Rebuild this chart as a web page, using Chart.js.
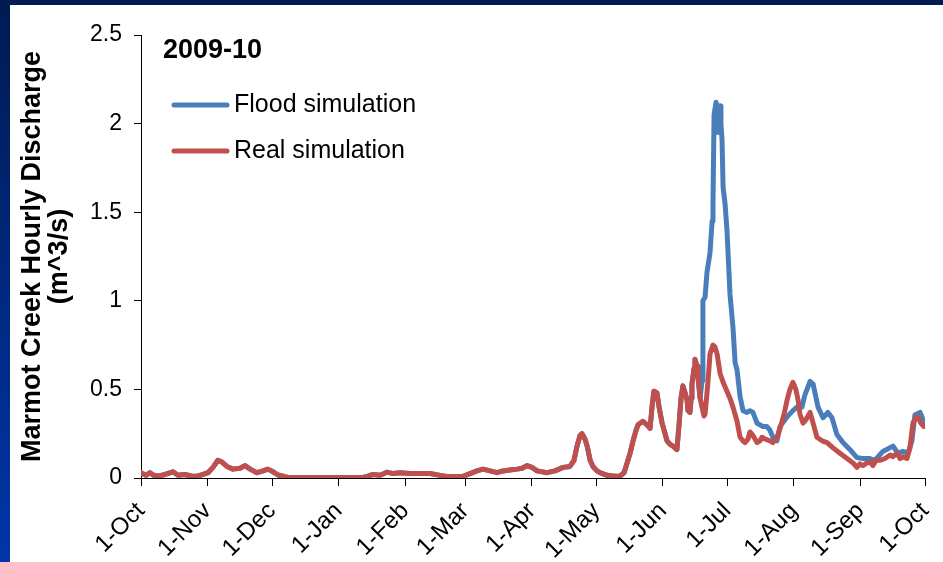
<!DOCTYPE html>
<html>
<head>
<meta charset="utf-8">
<title>Marmot Creek hourly discharge 2009-10</title>
<script src="https://cdn.jsdelivr.net/npm/chart.js@4.4.0/dist/chart.umd.min.js"></script>
<style>
  html, body { margin: 0; padding: 0; }
  body {
    width: 943px;
    height: 562px;
    position: relative;
    overflow: hidden;
    background: linear-gradient(to bottom, #001a52, #0036a8);
  }
  #panel {
    position: absolute;
    left: 10px;
    top: 5px;
    width: 933px;
    height: 557px;
    background: #ffffff;
  }
</style>
</head>
<body>
<div id="panel"><canvas id="flowChart" width="933" height="557"></canvas></div>
<script>
// days counted from 1-Oct-2009
const monthDays = [0, 31, 61, 92, 123, 151, 182, 212, 243, 273, 304, 335, 365];
const monthLabels = ['1-Oct', '1-Nov', '1-Dec', '1-Jan', '1-Feb', '1-Mar', '1-Apr',
                     '1-May', '1-Jun', '1-Jul', '1-Aug', '1-Sep', '1-Oct'];
const seasonLabel = '2009-10';

// real simulation (m^3/s)
const realDays = [0, 2.3, 4.2, 5.6, 7.9, 11.2, 14.9, 17.2, 20.5, 23.7, 26.1, 28.9, 31.2, 33.5, 35.8,
  37.7, 40.0, 42.8, 46.1, 48.4, 50.8, 54.0, 56.8, 59.1, 61.5, 63.8, 68.0, 74.0, 92.6, 103.4,
  105.7, 108.0, 111.3, 114.5, 117.3, 120.6, 125.2, 129.9, 134.5, 139.2, 142.5, 146.2, 149.9,
  153.2, 156.4, 159.2, 162.5, 165.7, 168.5, 171.8, 175.1, 177.4, 179.7, 182.0, 184.4, 189.0,
  192.7, 196.5, 199.7, 201.6, 203.0, 204.4, 205.3, 206.7, 207.7, 209.1, 210.4, 212.3, 213.7,
  217.0, 220.7, 223.0, 224.9, 226.3, 227.7, 229.1, 230.5, 231.4, 233.7, 235.6, 237.0, 237.9,
  238.8, 240.2, 241.2, 242.6, 244.0, 244.9, 246.3, 247.7, 249.5, 250.5, 251.4, 252.3, 253.3,
  254.2, 254.7, 255.6, 256.1, 256.5, 257.5, 257.9, 258.9, 259.3, 260.3, 261.2, 262.1, 262.6,
  263.5, 264.0, 264.9, 266.3, 267.2, 268.2, 269.6, 271.0, 272.8, 274.2, 275.6, 277.5, 278.9,
  280.3, 281.2, 282.6, 283.5, 284.9, 286.8, 288.2, 289.1, 290.5, 292.8, 294.2, 296.1, 297.5,
  299.4, 300.8, 302.1, 303.5, 304.9, 305.9, 306.8, 308.2, 309.6, 311.5, 312.9, 314.7, 317.1,
  319.4, 322.2, 325.4, 328.7, 331.5, 333.3, 334.7, 336.1, 338.0, 339.4, 340.8, 342.2, 344.0,
  346.4, 348.7, 350.1, 352.0, 353.4, 354.8, 356.6, 358.0, 359.4, 360.8, 361.7, 363.1, 364.5, 365.0];
const realQ = [0.03, 0.015, 0.03, 0.017, 0.01, 0.02, 0.035, 0.015, 0.02, 0.01, 0.01, 0.02, 0.03, 0.06, 0.10,
  0.09, 0.065, 0.05, 0.055, 0.07, 0.05, 0.03, 0.04, 0.05, 0.035, 0.017, 0.004, 0.003, 0.003, 0.003,
  0.01, 0.02, 0.015, 0.033, 0.025, 0.03, 0.025, 0.025, 0.025, 0.015, 0.008, 0.008, 0.01,
  0.025, 0.04, 0.05, 0.04, 0.03, 0.04, 0.045, 0.05, 0.055, 0.07, 0.06, 0.04, 0.03,
  0.04, 0.06, 0.065, 0.10, 0.18, 0.24, 0.25, 0.22, 0.18, 0.10, 0.065, 0.04, 0.03,
  0.015, 0.01, 0.01, 0.03, 0.085, 0.14, 0.21, 0.27, 0.30, 0.32, 0.30, 0.28, 0.40,
  0.49, 0.48, 0.40, 0.31, 0.25, 0.21, 0.19, 0.18, 0.16, 0.30, 0.45, 0.52, 0.48,
  0.44, 0.38, 0.37, 0.45, 0.53, 0.62, 0.67, 0.63, 0.57, 0.45, 0.40, 0.35, 0.36,
  0.48, 0.55, 0.70, 0.75, 0.74, 0.70, 0.59, 0.54, 0.49, 0.45, 0.40, 0.32, 0.23,
  0.21, 0.20, 0.22, 0.26, 0.24, 0.20, 0.21, 0.23, 0.22, 0.21, 0.20, 0.23, 0.28,
  0.36, 0.44, 0.50, 0.54, 0.50, 0.44, 0.36, 0.31, 0.33, 0.37, 0.31, 0.23, 0.21,
  0.20, 0.17, 0.14, 0.11, 0.085, 0.06, 0.08, 0.07, 0.085, 0.09, 0.07, 0.10, 0.10,
  0.11, 0.13, 0.12, 0.14, 0.11, 0.12, 0.11, 0.17, 0.31, 0.34, 0.345, 0.31, 0.29, 0.29];

// flood simulation: identical to the real run until mid-June, then these values
const floodSplitDay = 260.5;
const floodDays = [261.2, 261.6, 262.6, 263.5, 264.9, 265.9, 266.3, 266.8, 267.7, 268.2, 268.6, 269.1,
  269.6, 270.0, 270.5, 271.0, 271.9, 272.8, 274.2, 275.6, 276.6, 277.5, 278.9, 280.3, 282.1,
  283.5, 284.9, 286.8, 288.2, 289.6, 291.4, 292.8, 294.2, 296.1, 297.5, 300.8, 303.5, 305.4,
  307.7, 309.1, 310.1, 311.5, 312.9, 315.2, 317.5, 319.8, 321.7, 324.0, 326.8, 330.1, 333.3,
  336.1, 339.4, 341.7, 345.4, 350.1, 352.4, 354.8, 357.1, 358.9, 360.3, 362.7, 364.1, 365.0];
const floodQ = [0.55, 1.0, 1.02, 1.16, 1.27, 1.45, 1.55, 2.05, 2.12, 2.10, 1.95, 2.08,
  2.10, 2.0, 1.91, 1.64, 1.55, 1.40, 1.04, 0.85, 0.65, 0.61, 0.46, 0.38, 0.37,
  0.38, 0.37, 0.31, 0.30, 0.29, 0.29, 0.27, 0.23, 0.21, 0.29, 0.345, 0.38, 0.40,
  0.40, 0.47, 0.50, 0.545, 0.53, 0.40, 0.34, 0.37, 0.34, 0.245, 0.20, 0.16, 0.115,
  0.11, 0.11, 0.10, 0.15, 0.18, 0.14, 0.15, 0.14, 0.21, 0.355, 0.37, 0.33, 0.30];

const FONT = "'Liberation Sans', Arial, sans-serif";
const BLUE = '#4a7ebb';
const RED = '#c0504d';

const realPoints = realDays.map((d, i) => ({ x: d, y: realQ[i] }));
const floodPoints = realPoints.filter(p => p.x < floodSplitDay)
  .concat(floodDays.map((d, i) => ({ x: d, y: floodQ[i] })));

// legend + season label drawn inside the plot, like the original
const insideLegend = {
  id: 'insideLegend',
  afterDraw(chart) {
    const ctx = chart.ctx;
    const left = chart.chartArea.left;
    ctx.save();
    ctx.fillStyle = '#000';
    ctx.textBaseline = 'middle';
    ctx.textAlign = 'left';
    ctx.font = 'bold 27px ' + FONT;
    ctx.fillText(seasonLabel, left + 22, 46);

    ctx.font = '25px ' + FONT;
    ctx.lineWidth = 5;
    ctx.lineCap = 'round';
    const rows = [[chart.data.datasets[0], 100], [chart.data.datasets[1], 146]];
    rows.forEach(([ds, y]) => {
      ctx.strokeStyle = ds.borderColor;
      ctx.beginPath();
      ctx.moveTo(left + 33, y);
      ctx.lineTo(left + 86, y);
      ctx.stroke();
      ctx.fillText(ds.label, left + 93, y);
    });
    ctx.restore();
  }
};

new Chart(document.getElementById('flowChart'), {
  type: 'line',
  data: {
    datasets: [{
      label: 'Flood simulation',
      data: floodPoints,
      borderColor: BLUE,
      borderWidth: 5,
      order: 1
    }, {
      label: 'Real simulation',
      data: realPoints,
      borderColor: RED,
      borderWidth: 5,
      order: 0
    }]
  },
  options: {
    responsive: false,
    animation: false,
    parsing: false,
    layout: { padding: { top: 30, right: 18, left: 0, bottom: 0 } },
    elements: {
      point: { radius: 0 },
      line: { tension: 0, borderJoinStyle: 'round', borderCapStyle: 'round' }
    },
    plugins: {
      legend: { display: false },
      tooltip: { enabled: false }
    },
    scales: {
      x: {
        type: 'linear',
        min: 0,
        max: 365,
        afterFit: (scale) => {
          scale.height = 84;
          scale.paddingLeft = 0;
          scale.paddingRight = 0;
        },
        afterBuildTicks: (scale) => { scale.ticks = monthDays.map(v => ({ value: v })); },
        grid: { drawOnChartArea: false, drawTicks: true, tickLength: 8, color: '#000' },
        border: { display: true, color: '#000', width: 1 },
        ticks: {
          autoSkip: false,
          minRotation: 45,
          maxRotation: 45,
          padding: 11,
          color: '#000',
          font: { family: FONT, size: 24 },
          callback: (value) => monthLabels[monthDays.indexOf(value)]
        }
      },
      y: {
        min: 0,
        max: 2.5,
        afterFit: (scale) => { scale.width = 131; },
        grid: { drawOnChartArea: false, drawTicks: true, tickLength: 7, color: '#000' },
        border: { display: true, color: '#000', width: 1 },
        ticks: {
          stepSize: 0.5,
          padding: 12,
          color: '#000',
          font: { family: FONT, size: 23 },
          callback: (value) => String(Math.round(value * 10) / 10)
        },
        title: {
          display: true,
          text: ['Marmot Creek Hourly Discharge', '(m^3/s)'],
          color: '#000',
          font: { family: FONT, size: 27, weight: 'bold', lineHeight: 1.0 },
          padding: { top: 9, bottom: 0 }
        }
      }
    }
  },
  plugins: [insideLegend]
});
</script>
</body>
</html>
